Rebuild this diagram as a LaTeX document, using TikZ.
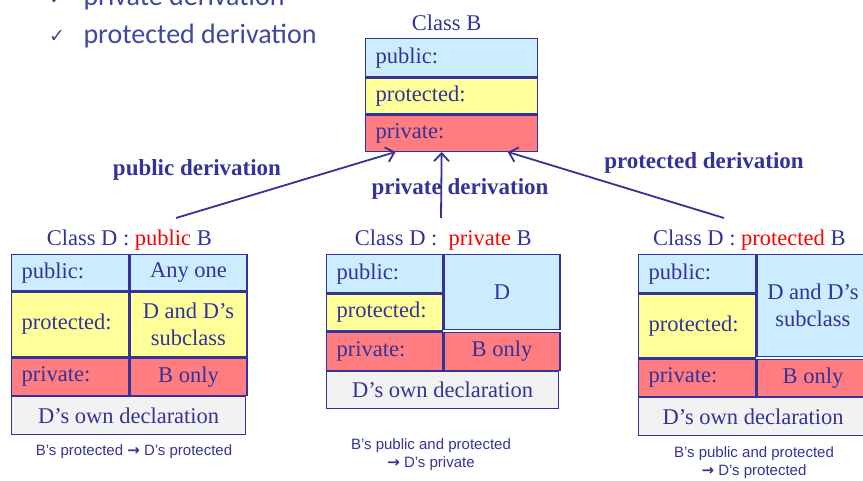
\documentclass[tikz,border=0pt]{standalone}
\usepackage{fontspec}
\setmainfont{Liberation Serif}
\newfontfamily\capfont{Liberation Sans}
\newfontfamily\bulfont{Carlito}
\newfontfamily\symfont{DejaVu Sans}
\usetikzlibrary{positioning,arrows.meta}

\definecolor{navy}{RGB}{51,51,153}
\definecolor{bulletnavy}{RGB}{62,72,158}
\definecolor{cblue}{RGB}{204,236,255}
\definecolor{cyellow}{RGB}{255,255,153}
\definecolor{cred}{RGB}{255,124,128}
\definecolor{cgrey}{RGB}{242,242,242}

\begin{document}
\begin{tikzpicture}[x=1pt,y=-1pt,
	% Cell style
	cell/.style={draw=navy,line width=1.3pt,anchor=north west,inner xsep=10pt,inner ysep=0pt,text=navy,font=\fontsize{22.5}{27}\selectfont},
	key/.style={cell,text width=97pt,align=left},
	val/.style={cell,minimum width=117pt,align=center},
	% Titles and labels
	title/.style={text=navy,inner sep=1pt,font=\fontsize{22.5}{24}\selectfont},
	deriv/.style={text=navy,font=\bfseries\fontsize{23}{24}\selectfont},
	note/.style={text=navy,align=center,font=\capfont\fontsize{15}{18}\selectfont},
	bullet/.style={text=bulletnavy,anchor=west,font=\bulfont\fontsize{28}{30}\selectfont},
	tick/.style={text=bulletnavy,font=\symfont\fontsize{19}{19}\selectfont},
	% Arrow style
	arr/.style={draw=navy,line width=1.8pt,-{Straight Barb[length=8pt,width=15pt]}}
	]
	\useasboundingbox (0,0) rectangle (863,481);
	%% Bullets
	\node[tick] (k0) at (57,-1) {✓};
	\node[bullet] (b0txt) at (80,-2) {private derivation};
	\node[tick] (k1) at (57,37) {✓};
	\node[bullet] (b1txt) at (80,36) {protected derivation};
	%% Class B
	\node[key,fill=cblue,minimum height=38pt,text width=152pt] (b1) at (365,38) {public:};
	\node[key,fill=cyellow,minimum height=36pt,text width=152pt] (b2) at (b1.south west) {protected:};
	\node[key,fill=cred,minimum height=36pt,text width=152pt] (b3) at (b2.south west) {private:};
	\node[title,above=6pt of b1.north,xshift=-5pt] (tB) {Class B};
	%% Class D : public B
	\node[key,fill=cblue,minimum height=36pt] (pu1k) at (11,254) {public:};
	\node[val,fill=cblue,minimum height=36pt] (pu1v) at (pu1k.north east) {Any one};
	\node[key,fill=cyellow,minimum height=65pt] (pu2k) at (pu1k.south west) {protected:};
	\node[val,fill=cyellow,minimum height=65pt] (pu2v) at (pu2k.north east) {D and D’s\\subclass};
	\node[key,fill=cred,minimum height=37pt] (pu3k) at (pu2k.south west) {private:};
	\node[val,fill=cred,minimum height=37pt] (pu3v) at (pu3k.north east) {B only};
	\node[val,fill=cgrey,minimum height=38pt,minimum width=234pt] (pu4) at (pu3k.south west) {D’s own declaration};
	\node[title,above=3pt of pu1k.north east] (tPub) {Class D : \textcolor{red}{public} B};
	%% Class D : private B
	\node[key,fill=cblue,minimum height=38pt,text width=96pt] (pr1k) at (326,254) {public:};
	\node[key,fill=cyellow,minimum height=37pt,text width=96pt] (pr2k) at (pr1k.south west) {protected:};
	\node[val,fill=cblue,minimum height=75pt,minimum width=116pt] (prDv) at (pr1k.north east) {D};
	\node[key,fill=cred,minimum height=38pt,text width=96pt] (pr3k) at (pr2k.south west) {private:};
	\node[val,fill=cred,minimum height=38pt,minimum width=116pt] (pr3v) at (pr3k.north east) {B only};
	\node[val,fill=cgrey,minimum height=37pt,minimum width=232pt] (pr4) at (pr3k.south west) {D’s own declaration};
	\node[title,above=3pt of pr1k.north east] (tPri) {Class D :\ \ \textcolor{red}{private} B};
	%% Class D : protected B
	\node[key,fill=cblue,minimum height=38pt] (pt1k) at (638,254) {public:};
	\node[key,fill=cyellow,minimum height=64pt] (pt2k) at (pt1k.south west) {protected:};
	\node[val,fill=cblue,minimum height=102pt,minimum width=112pt] (ptDv) at (pt1k.north east) {D and D’s\\subclass};
	\node[key,fill=cred,minimum height=37pt] (pt3k) at (pt2k.south west) {private:};
	\node[val,fill=cred,minimum height=37pt,minimum width=112pt] (pt3v) at (pt3k.north east) {B only};
	\node[val,fill=cgrey,minimum height=38pt,minimum width=229pt] (pt4) at (pt3k.south west) {D’s own declaration};
	\node[title,above=3pt of pt1k.north east,xshift=-7pt] (tPro) {Class D : \textcolor{red}{protected} B};
	%% Derivation arrows
	\coordinate (sPub) at (176,218);
	\coordinate (sPri) at (441,218);
	\coordinate (sPro) at (724,218);
	\draw[arr] (sPub) -- ([xshift=-56pt]b3.south);
	\draw[arr] (sPri) -- ([xshift=-10pt]b3.south);
	\draw[arr] (sPro) -- ([xshift=56pt]b3.south);
	\node[deriv] (lPub) at (197,170) {public derivation};
	\node[deriv] (lPri) at (460,189) {private derivation};
	\node[deriv] (lPro) at (704,163) {protected derivation};
	%% Notes
	\node[note] (nPub) at (134,452) {B’s protected {\symfont\bfseries →} D’s protected};
	\node[note] (nPri) at (431,455) {B’s public and protected\\{\symfont\bfseries →} D’s private};
	\node[note] (nPro) at (754,463) {B’s public and protected\\{\symfont\bfseries →} D’s protected};
\end{tikzpicture}
\end{document}
